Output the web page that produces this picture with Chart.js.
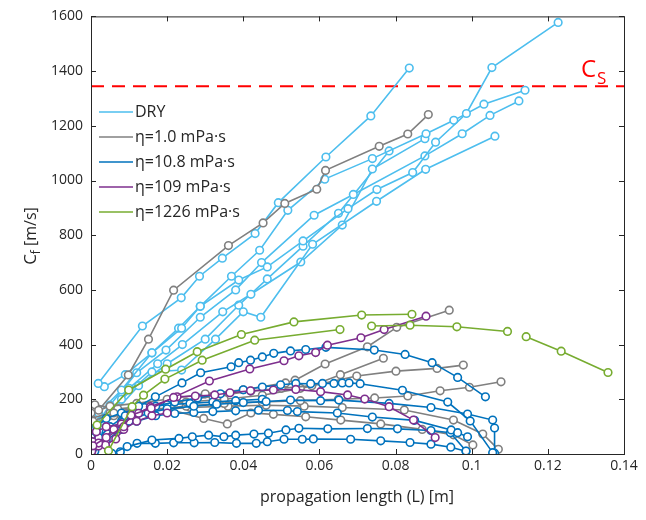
<!DOCTYPE html>
<html>
<head>
<meta charset="utf-8">
<script src="https://cdn.jsdelivr.net/npm/chart.js@4.4.1/dist/chart.umd.min.js"></script>
<style>
 html,body{margin:0;padding:0;background:#fff;}
 #wrap{width:646px;height:520px;}
</style>
</head>
<body>
<div id="wrap"><canvas id="c" width="646" height="520"></canvas></div>
<script>
// axis ticks
const xTicks = [0, 0.02, 0.04, 0.06, 0.08, 0.1, 0.12, 0.14];
const yTicks = [0, 200, 400, 600, 800, 1000, 1200, 1400, 1600];
const csValue = 1345;

const groupNames = ["DRY", "η=1.0 mPa·s", "η=10.8 mPa·s", "η=109 mPa·s", "η=1226 mPa·s"];
const groupColors = ["#4DBEEE", "#808080", "#0072BD", "#7E2F8E", "#77AC30"];

/* DRY runs */
const dryA = [[0.0019,258],[0.0135,468],[0.0237,571],[0.0285,650],[0.0345,716],[0.0431,806],[0.0492,919],[0.0617,1086],[0.0735,1236],[0.0836,1411]];
const dryB = [[0.0035,246],[0.009,290],[0.016,370],[0.0238,460],[0.0287,540],[0.0388,636],[0.0463,684],[0.0557,779],[0.0675,897],[0.0751,967],[0.0845,1029],[0.0905,1140],[0.0986,1245],[0.1053,1413],[0.1227,1578]];
const dryC = [[0.002,150],[0.008,234],[0.016,370],[0.023,460],[0.0287,540],[0.0369,650],[0.0443,745],[0.0517,891],[0.0614,1005],[0.0739,1080],[0.0880,1171],[0.0953,1220],[0.1032,1279],[0.1140,1330]];
const dryD = [[0.001,100],[0.005,179],[0.012,297],[0.0197,380],[0.0287,500],[0.0380,600],[0.0448,700],[0.0586,873],[0.0689,949],[0.0877,1090],[0.0975,1171],[0.1048,1238],[0.1124,1291]];
const dryE = [[0.0025,120],[0.008,200],[0.016,300],[0.0238,307],[0.0327,420],[0.0400,520],[0.0446,500],[0.0582,767],[0.075,924],[0.0879,1041],[0.1061,1162]];
const dryF = [[0.003,90],[0.010,240],[0.0175,330],[0.0240,400],[0.0346,520],[0.0420,584],[0.0551,702],[0.066,837],[0.0739,1042],[0.0877,1153]];
const dryG = [[0.0005,70],[0.006,150],[0.0125,250],[0.020,330],[0.0300,420],[0.0388,544],[0.0463,640],[0.0557,760],[0.0650,880],[0.0783,1108]];

/* eta = 1.0 mPa s */
const w1A = [[0.002,160],[0.0098,289],[0.0151,420],[0.0217,599],[0.0361,762],[0.0452,845],[0.0509,916],[0.0593,968],[0.0616,1037],[0.0757,1125],[0.0832,1170],[0.0886,1241]];
const w1B = [[0.0,150],[0.005,175],[0.012,185],[0.02,200],[0.03,220],[0.04,235],[0.0511,260],[0.0536,270],[0.0615,329],[0.0726,392],[0.0803,463],[0.0941,526]];
const w1C = [[0.0005,120],[0.006,150],[0.014,170],[0.022,190],[0.032,210],[0.042,230],[0.05,240],[0.058,250],[0.0655,290],[0.0768,350]];
const w1D = [[0.001,180],[0.007,165],[0.015,175],[0.025,190],[0.035,200],[0.045,215],[0.055,240],[0.0698,285],[0.0801,303],[0.0909,313],[0.0978,325]];
const w1E = [[0.0,100],[0.006,140],[0.015,160],[0.025,175],[0.035,185],[0.045,190],[0.055,195],[0.065,200],[0.0745,205],[0.0832,212],[0.0917,231],[0.0994,244],[0.1077,264]];
const w1F = [[0.0,130],[0.005,150],[0.012,170],[0.02,165],[0.0296,130],[0.0358,110],[0.042,150],[0.0479,145],[0.0564,136],[0.0656,124],[0.0761,110],[0.087,90],[0.0952,70],[0.1003,33]];
const w1G = [[0.001,110],[0.008,140],[0.016,160],[0.026,170],[0.036,175],[0.046,178],[0.056,175],[0.066,170],[0.0823,161],[0.0952,124],[0.1029,73],[0.107,17]];

/* eta = 10.8 mPa s */
const w10A = [[0.0005,20],[0.002,60],[0.005,100],[0.009,140],[0.0125,175],[0.0169,209],[0.0239,260],[0.0288,297],[0.0368,319],[0.0388,334],[0.0419,343],[0.045,355],[0.048,368],[0.0524,377],[0.0564,382],[0.0617,390],[0.0744,380],[0.0825,364],[0.0896,334],[0.0963,280],[0.1036,209]];
const w10B = [[0.001,30],[0.004,80],[0.008,120],[0.012,150],[0.017,175],[0.022,190],[0.028,205],[0.034,220],[0.040,235],[0.045,245],[0.0498,253],[0.0538,258],[0.0577,257],[0.0608,258],[0.0638,258],[0.066,260],[0.0678,260],[0.0707,257],[0.0818,233],[0.0937,190],[0.0996,121],[0.1055,5]];
const w10C = [[0.002,40],[0.006,90],[0.010,120],[0.015,150],[0.020,165],[0.027,175],[0.033,182],[0.040,188],[0.046,192],[0.0524,197],[0.0603,195],[0.0651,197],[0.0783,185],[0.0893,170],[0.0989,146],[0.1055,124],[0.106,95],[0.106,3]];
const w10D = [[0.001,10],[0.004,50],[0.008,90],[0.012,120],[0.017,140],[0.022,148],[0.027,152],[0.032,155],[0.038,158],[0.044,160],[0.0516,159],[0.0542,155],[0.0647,150],[0.0739,135],[0.0850,123],[0.0946,88],[0.0963,78],[0.0989,63]];
const w10E = [[0.0055,2],[0.0095,27],[0.016,51],[0.0231,57],[0.0266,63],[0.0309,69],[0.0349,63],[0.038,69],[0.0428,73],[0.0466,76],[0.0512,88],[0.0546,94],[0.0622,92],[0.0726,93],[0.0805,92],[0.0893,86],[0.0944,78],[0.0985,11]];
const w10F = [[0.0077,8],[0.0121,39],[0.0169,39],[0.0217,41],[0.0271,41],[0.0325,42],[0.0382,39],[0.0434,39],[0.0463,45],[0.0507,54],[0.0555,54],[0.0584,55],[0.0682,54],[0.0761,48],[0.0838,42],[0.0893,36],[0.0945,25],[0.0985,10]];
const w10G = [[0.0,20],[0.0,60],[0.0015,100],[0.004,130],[0.008,150],[0.014,170],[0.02,180],[0.026,185],[0.032,190],[0.038,195],[0.045,200]];

/* eta = 109 mPa s */
const w109A = [[0.0005,30],[0.004,60],[0.0086,100],[0.0105,142],[0.0158,167],[0.0217,207],[0.0311,267],[0.0417,311],[0.0507,341],[0.0546,359],[0.059,371],[0.0621,398],[0.0709,425],[0.077,455],[0.088,504]];
const w109B = [[0.0002,10],[0.002,40],[0.006,90],[0.0125,149],[0.0156,173],[0.0226,209],[0.0274,212],[0.0325,216],[0.0365,224],[0.0419,231],[0.0479,234],[0.0538,236],[0.0603,228],[0.0674,216],[0.0719,201],[0.0783,173],[0.0847,124],[0.0904,60]];
const w109C = [[0.0004,45],[0.002,29],[0.0038,33],[0.0065,55],[0.0086,90],[0.012,120],[0.016,140],[0.02,150]];
const w109D = [[0.0001,8],[0.0014,81],[0.004,100],[0.008,110]];

/* eta = 1226 mPa s */
const w1226A = [[0.0016,106],[0.0099,234],[0.0196,310],[0.0279,374],[0.0395,437],[0.0533,483],[0.0711,508],[0.0843,511]];
const w1226B = [[0.0046,12],[0.0108,173],[0.0138,215],[0.0194,274],[0.0292,343],[0.043,416],[0.0654,455]];
const w1226C = [[0.0737,468],[0.0838,471],[0.0961,465],[0.1094,448]];
const w1226D = [[0.1143,429],[0.1235,376],[0.1358,298]];

const runs = [
 [0,dryA],[0,dryB],[0,dryC],[0,dryD],[0,dryE],[0,dryF],[0,dryG],
 [1,w1A],[1,w1B],[1,w1C],[1,w1D],[1,w1E],[1,w1F],[1,w1G],
 [2,w10A],[2,w10B],[2,w10C],[2,w10D],[2,w10E],[2,w10F],[2,w10G],
 [3,w109A],[3,w109B],[3,w109C],[3,w109D],
 [4,w1226A],[4,w1226B],[4,w1226C],[4,w1226D]
];

const datasets = runs.map(([g,pts])=>({
 label:groupNames[g],
 data:pts.map(p=>({x:p[0],y:p[1]})),
 showLine:true,
 borderColor:groupColors[g],
 borderWidth:1.6,
 pointRadius:3.8,
 pointBorderWidth:1.6,
 pointBackgroundColor:"#fff",
 pointBorderColor:groupColors[g],
 order:4-g
}));

const txt = "#262626";
const fontFam = "'Open Sans', 'DejaVu Sans', sans-serif";

// box, inward ticks, Cs line, legend, axis titles
const decor = {
 id:"decor",
 beforeDatasetsDraw(chart){
  const {ctx, chartArea:a, scales:{x,y}} = chart;
  const yc = y.getPixelForValue(csValue);
  ctx.save();
  ctx.strokeStyle = "#FF0000";
  ctx.lineWidth = 2;
  ctx.setLineDash([13,8]);
  ctx.beginPath();
  ctx.moveTo(a.left, yc); ctx.lineTo(a.right, yc);
  ctx.stroke();
  ctx.restore();
 },
 afterDraw(chart){
  const {ctx, chartArea:a, scales:{x,y}} = chart;
  ctx.save();
  ctx.strokeStyle = txt;
  ctx.lineWidth = 1;
  ctx.strokeRect(a.left+0.5, a.top+0.5, a.right-a.left, a.bottom-a.top);
  ctx.beginPath();
  xTicks.forEach(v=>{
   const px = Math.round(x.getPixelForValue(v))+0.5;
   ctx.moveTo(px, a.bottom); ctx.lineTo(px, a.bottom-5);
   ctx.moveTo(px, a.top); ctx.lineTo(px, a.top+5);
  });
  yTicks.forEach(v=>{
   const py = Math.round(y.getPixelForValue(v))+0.5;
   ctx.moveTo(a.left, py); ctx.lineTo(a.left+5, py);
   ctx.moveTo(a.right, py); ctx.lineTo(a.right-5, py);
  });
  ctx.stroke();

  // legend
  ctx.font = "16px " + fontFam;
  ctx.textBaseline = "middle";
  groupNames.forEach((n,i)=>{
   const ly = 112 + i*25;
   ctx.strokeStyle = groupColors[i];
   ctx.lineWidth = 1.6;
   ctx.beginPath(); ctx.moveTo(99, ly); ctx.lineTo(133, ly); ctx.stroke();
   ctx.fillStyle = txt;
   ctx.fillText(n, 135, ly);
  });

  // Cs label
  ctx.fillStyle = "#FF0000";
  ctx.textBaseline = "alphabetic";
  ctx.font = "24px " + fontFam;
  ctx.fillText("C", 581, 77);
  ctx.font = "17px " + fontFam;
  ctx.fillText("S", 597, 84);

  // x title
  ctx.fillStyle = txt;
  ctx.font = "16px " + fontFam;
  ctx.textAlign = "center";
  ctx.fillText("propagation length (L) [m]", 357, 502);

  // y title
  ctx.translate(36, 236);
  ctx.rotate(-Math.PI/2);
  ctx.textAlign = "left";
  ctx.font = "17px " + fontFam;
  const w1 = ctx.measureText("C").width;
  ctx.font = "12px " + fontFam;
  const w2 = ctx.measureText("f").width;
  ctx.font = "16px " + fontFam;
  const w3 = ctx.measureText(" [m/s]").width;
  let sx = -(w1+w2+w3)/2;
  ctx.font = "17px " + fontFam;
  ctx.fillText("C", sx, 0);
  ctx.font = "12px " + fontFam;
  ctx.fillText("f", sx+w1, 4);
  ctx.font = "16px " + fontFam;
  ctx.fillText(" [m/s]", sx+w1+w2, 0);
  ctx.restore();
 }
};

new Chart(document.getElementById("c"), {
 type:"scatter",
 data:{datasets},
 options:{
  responsive:false,
  animation:false,
  devicePixelRatio:1,
  layout:{padding:{top:16,right:22,left:0,bottom:0}},
  plugins:{legend:{display:false},tooltip:{enabled:false}},
  scales:{
   x:{
    type:"linear", min:0, max:0.14,
    afterBuildTicks:s=>{ s.ticks = xTicks.map(v=>({value:v})); },
    afterFit:s=>{ s.height = 66; },
    grid:{display:false, drawTicks:false},
    border:{display:false},
    ticks:{color:txt, padding:4, font:{size:14, family:fontFam},
      callback:v=> v===0 ? "0" : String(+v.toFixed(2))}
   },
   y:{
    type:"linear", min:0, max:1600,
    afterBuildTicks:s=>{ s.ticks = yTicks.map(v=>({value:v})); },
    afterFit:s=>{ s.width = 91; },
    grid:{display:false, drawTicks:false},
    border:{display:false},
    ticks:{color:txt, padding:8, font:{size:14, family:fontFam},
      callback:v=> String(v)}
   }
  }
 },
 plugins:[decor]
});
</script>
</body>
</html>
